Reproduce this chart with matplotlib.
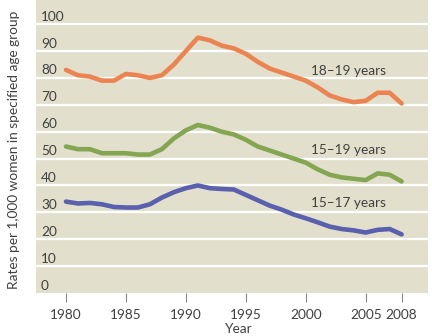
import matplotlib
matplotlib.use("Agg")
import matplotlib.pyplot as plt
import matplotlib.transforms as mtransforms

years = list(range(1980, 2009))
rate_18_19 = [83, 81, 80.5, 79, 79, 81.5, 81, 80, 81, 85, 90, 95, 94, 92, 91, 89,
              86, 83.5, 82, 80.5, 79, 76.5, 73.5, 72, 71, 71.5, 74.5, 74.5, 70.5]
rate_15_19 = [54.5, 53.5, 53.5, 52, 52, 52, 51.5, 51.5, 53.5, 57.5, 60.5, 62.5, 61.5, 60, 59, 57,
              54.5, 53, 51.5, 50, 48.5, 46, 44, 43, 42.5, 42, 44.5, 44, 41.5]
rate_15_17 = [34, 33.3, 33.5, 33, 32, 31.8, 31.8, 33, 35.5, 37.5, 39, 40, 39, 38.7, 38.5, 36.5,
              34.5, 32.5, 31, 29.2, 27.8, 26.3, 24.7, 23.8, 23.3, 22.5, 23.5, 23.8, 21.8]

series_labels = ["18\u201319 years", "15\u201319 years", "15\u201317 years"]
label_y = [82.5, 53.2, 33.5]
xticks = [1980, 1985, 1990, 1995, 2000, 2005, 2008]
yticks = [0, 10, 20, 30, 40, 50, 60, 70, 80, 90, 100]

plt.rcParams['font.family'] = ['Lato', 'DejaVu Sans']
text_col = "#404040"
fs = 9.8

fig = plt.figure(figsize=(4.32, 3.36), dpi=100)
ax = fig.add_axes([36 / 432, 1 - 293 / 336, 392 / 432, 293 / 336])
ax.set_facecolor("#e2e0cd")
ax.set_xlim(1977.5, 2010.2)
ax.set_ylim(0, 109)

for s in ax.spines.values():
    s.set_visible(False)

# white horizontal grid with labels sitting on top of each line
blend = mtransforms.blended_transform_factory(ax.transAxes, ax.transData)
for v in yticks:
    if v > 0:
        ax.axhline(v, color="white", lw=1.6, zorder=1)
    ax.annotate(str(v), xy=(0.013, v), xycoords=blend, xytext=(0, 2.5),
                textcoords="offset points", ha="left", va="baseline",
                fontsize=fs, color=text_col)

colors = ["#ec8452", "#84a653", "#5a5fae"]
for vals, c in zip([rate_18_19, rate_15_19, rate_15_17], colors):
    ax.plot(years, vals, color=c, lw=3.3, solid_capstyle="round",
            solid_joinstyle="round", zorder=3)

for lab, y in zip(series_labels, label_y):
    ax.text(2000.4, y, lab, ha="left", va="center", fontsize=fs, color=text_col, zorder=4)

ax.set_yticks([])
ax.set_xticks(xticks)
ax.set_xticklabels([str(x) for x in xticks], fontsize=fs, color=text_col)
ax.tick_params(axis="x", length=6.5, width=0.8, color="#888888", pad=5)

fig.text(14 / 432, 1 - 150 / 336, "Rates per 1,000 women in specified age group",
         rotation=90, ha="center", va="center", fontsize=fs, color=text_col)
fig.text(239 / 432, 1 - 329 / 336, "Year", ha="center", va="center",
         fontsize=fs, color=text_col)

fig.savefig("out.png", dpi=100, facecolor="white")
